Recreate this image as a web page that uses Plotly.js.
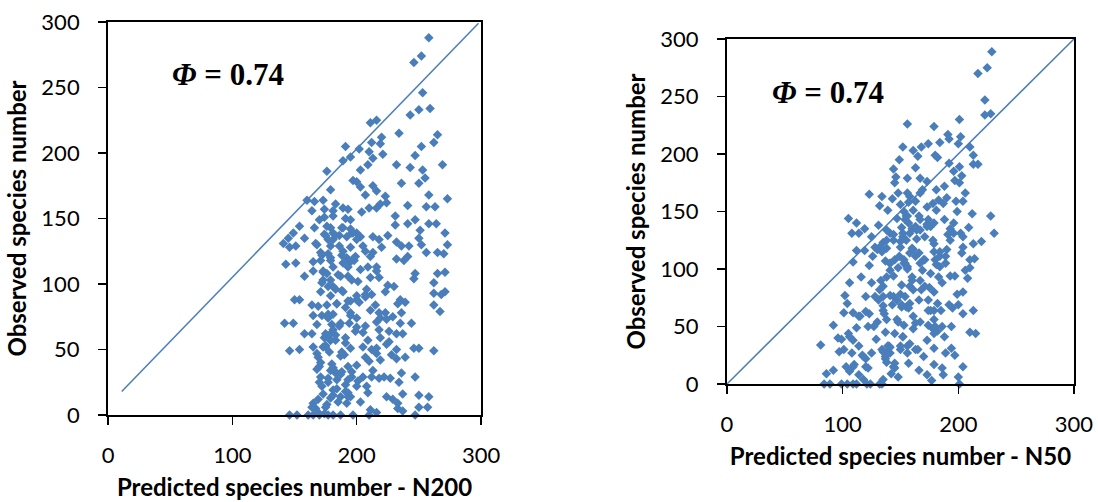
<!DOCTYPE html>
<html>
<head>
<meta charset="utf-8">
<script src="https://cdn.plot.ly/plotly-3.0.1.min.js"></script>
<style>html,body{margin:0;padding:0;background:#fff}#chart{width:1098px;height:502px}</style>
</head>
<body>
<div id="chart"></div>
<script>
// Panel A: predicted (N200) vs observed species number
const predN200 = [258,252,246,253,250,259,243,216,211,234,265,220,212,219,262,191,252,210,202,195,247,221,213,189,209,232,269,243,253,203,176,197,200,250,236,213,255,203,179,216,207,258,223,273,160,173,166,224,219,183,241,256,263,210,216,193,189,164,174,181,204,231,174,170,247,191,231,241,264,258,154,166,179,189,195,251,149,181,200,271,174,186,213,225,218,250,203,145,158,192,141,168,232,252,273,236,242,151,146,220,195,189,207,256,265,270,171,177,188,213,197,241,238,232,165,171,179,195,143,151,193,209,216,173,165,247,265,271,187,158,193,211,218,246,173,179,201,262,225,230,181,223,189,171,271,268,212,200,179,207,235,150,154,195,262,202,239,233,262,184,164,215,191,211,267,218,195,177,181,236,165,229,200,219,244,142,149,194,187,216,235,168,180,207,200,218,226,205,158,164,179,183,232,237,174,219,226,183,191,224,173,195,250,246,232,262,146,154,178,190,216,228,187,169,207,232,239,210,219,200,180,193,168,181,196,188,236,247,205,171,177,212,218,222,193,184,227,170,201,234,208,200,181,191,209,173,237,250,258,187,224,179,229,233,185,203,165,176,250,257,233,167,211,237,216,170,174,161,165,170,177,181,187,146,152,197,210,247,175,179,175,181,186,183,179,187,170,172,184,195,192,193,172,169,183,172,176,181,189,198,203,186,181,179,176,197,200,181,195,205,211,216,223,224,208,193,205,216,209,212,165,168,213,
  175,177,183,188,196,167,172,179,192,199,173,185,196,177,188,207,176,184,200,195,177,175,179,191,199,175,188,171,183,196,177,191,181,193,169,164,175];
const obsN200 = [288,274,269,246,233,234,229,225,223,215,214,212,208,207,208,205,205,201,203,197,198,199,196,194,191,191,191,189,187,187,186,179,178,177,177,175,181,174,172,171,168,168,167,165,164,164,163,162,161,161,160,159,159,158,158,157,158,156,157,156,155,152,151,149,149,150,145,146,146,146,144,143,143,143,142,141,139,139,139,139,138,137,136,137,134,135,136,135,135,136,131,130,132,130,130,129,129,129,128,128,128,125,125,124,124,123,124,123,122,124,119,121,118,119,117,118,118,117,115,116,113,113,110,110,110,108,108,109,106,106,106,105,105,104,103,103,102,101,99,98,98,94,94,94,94,92,92,91,91,90,88,88,88,87,93,86,86,85,84,85,84,84,82,80,79,78,78,77,77,78,76,75,74,74,70,70,70,70,70,71,70,69,69,68,67,65,64,63,62,62,62,61,62,62,59,59,56,57,55,54,52,51,51,51,50,49,49,50,48,46,47,46,45,44,44,43,44,41,42,38,39,37,35,36,33,33,32,29,29,29,28,29,28,29,27,27,28,25,26,25,22,22,19,18,17,16,16,15,14,14,14,13,12,9,10,10,9,8,6,6,5,5,4,3,2,1,1,0,0,0,0,0,0,0,0,0,0,0,53,57,62,65,68,32,34,31,37,22,20,14,9,17,76,83,96,101,108,113,116,118,111,129,134,129,144,139,134,152,149,129,121,113,78,73,96,87,52,51,57,50,52,47,34,
  137,134,137,143,139,131,122,120,120,121,109,107,103,98,95,92,84,85,88,76,74,60,57,59,64,52,48,40,33,29,25,23,15,14,12,6,6];
const refLineA_x = [11, 298];
const refLineA_y = [18, 299];

// Panel B: predicted (N50) vs observed species number
const predN50 = [229,225,217,223,228,223,156,179,201,191,202,192,184,200,210,174,168,152,161,180,213,182,149,165,213,217,192,201,144,163,196,203,146,156,167,197,173,145,201,188,169,181,148,156,123,206,134,143,190,198,183,178,187,163,204,132,150,157,199,139,212,228,166,153,156,105,147,188,196,112,173,131,209,176,151,119,167,231,108,114,158,191,144,204,171,125,164,135,220,213,179,204,128,138,160,112,119,184,166,126,149,180,210,214,109,189,137,141,181,153,123,210,169,156,206,193,197,144,116,160,208,133,167,106,186,151,135,175,158,179,204,199,150,102,128,141,120,166,174,104,143,151,192,200,135,157,195,174,179,185,120,109,101,123,136,204,213,161,114,130,148,167,92,127,153,112,174,186,194,161,178,182,105,210,215,137,145,152,188,96,99,109,129,173,114,81,139,150,156,194,179,163,97,135,141,197,125,108,117,120,189,170,138,157,179,110,103,120,122,145,204,186,166,92,106,86,142,173,187,114,148,200,135,118,177,84,89,99,104,109,112,121,124,132,134,201,154,157,160,163,167,174,179,152,155,150,158,153,156,163,171,179,167,176,183,184,171,161,154,158,147,182,179,180,179,138,138,137,134,140,156,158,144,135,141,145,141,138,132,130,193,196,193,190,189,203,202,173,181,161,158,167,
  138,144,150,134,141,148,138,132,144,151,135,147,141,150,137,145,118,109,101,106,122,115,131,125,155,164,152,173,161,154,170,160,168,155,176,163,152,165,184,178];
const obsN50 = [289,275,270,247,235,234,226,224,230,217,215,213,210,209,206,209,206,206,203,199,199,197,195,198,191,191,192,189,187,188,185,181,180,179,179,177,176,175,175,172,169,169,166,166,165,166,163,161,162,159,160,157,157,159,159,155,156,158,150,151,148,146,146,150,146,144,144,143,140,140,139,138,136,137,136,135,134,131,131,131,131,130,130,128,128,128,126,123,124,122,122,119,119,118,118,116,116,115,114,111,111,108,108,109,106,105,107,105,104,105,103,101,99,100,99,94,94,94,93,93,92,90,90,88,88,86,85,84,85,80,80,78,78,77,76,77,76,73,73,70,69,69,69,69,68,66,66,64,64,64,63,62,62,61,61,61,64,59,59,54,54,54,51,50,51,49,51,50,50,48,48,46,44,45,44,45,44,41,41,40,39,38,39,38,33,34,33,33,33,31,31,30,28,28,27,25,27,27,25,22,27,24,19,18,17,17,15,15,14,14,15,14,12,12,11,9,9,8,8,8,6,6,4,4,3,0,0,0,0,0,0,0,0,0,0,0,143,140,135,137,143,143,140,131,125,124,114,108,102,111,108,115,105,96,93,102,85,82,76,70,73,70,56,50,44,56,27,22,30,33,27,35,15,76,99,108,131,125,119,117,135,131,125,117,111,114,131,154,151,151,163,166,
  134,125,119,115,105,101,93,82,76,67,64,56,32,30,24,18,24,15,30,41,50,59,73,88,146,134,128,137,117,105,108,90,82,67,64,53,41,30,111,125];
const refLineB_x = [0, 300];
const refLineB_y = [0, 300];

const tickVals = [0, 100, 200, 300];
const yTickVals = [0, 50, 100, 150, 200, 250, 300];
const xTitleA = 'Predicted species number - N200';
const xTitleB = 'Predicted species number - N50';
const yTitle = 'Observed species number';
const phiText = '<b><i>Φ</i> = 0.74</b>';

const blue = '#4A7EBB';
const sans = 'Lato, "Open Sans", sans-serif';

const markerStyle = {symbol: 'diamond', size: 7.3, color: blue};
const traces = [
  {x: predN200, y: obsN200, type: 'scatter', mode: 'markers', marker: markerStyle, xaxis: 'x', yaxis: 'y', cliponaxis: false, showlegend: false},
  {x: refLineA_x, y: refLineA_y, type: 'scatter', mode: 'lines', line: {color: blue, width: 1.5}, xaxis: 'x', yaxis: 'y', showlegend: false},
  {x: predN50, y: obsN50, type: 'scatter', mode: 'markers', marker: markerStyle, xaxis: 'x2', yaxis: 'y2', cliponaxis: false, showlegend: false},
  {x: refLineB_x, y: refLineB_y, type: 'scatter', mode: 'lines', line: {color: blue, width: 1.5}, xaxis: 'x2', yaxis: 'y2', showlegend: false}
];

function xAxis(domain, title, anchor) {
  return {
    domain: domain, anchor: anchor, range: [0, 300], tickvals: tickVals,
    ticks: 'outside', ticklen: 8, tickwidth: 1.5, tickcolor: '#000',
    showline: true, linecolor: '#000', linewidth: 2, mirror: true,
    showgrid: false, zeroline: false, fixedrange: true,
    tickfont: {family: sans, size: 22, color: '#000'}, ticklabelstandoff: 12,
    title: {text: '<b>' + title + '</b>', font: {family: sans, size: 24, color: '#000'}, standoff: 12}
  };
}
function yAxis(domain, anchor) {
  return {
    domain: domain, anchor: anchor, range: [0, 300], tickvals: yTickVals,
    ticks: 'outside', ticklen: 8, tickwidth: 1.5, tickcolor: '#000',
    showline: true, linecolor: '#000', linewidth: 2, mirror: true,
    showgrid: false, zeroline: false, fixedrange: true,
    tickfont: {family: sans, size: 22, color: '#000'}, ticklabelstandoff: 14,
    title: {text: '<b>' + yTitle + '</b>', font: {family: sans, size: 24, color: '#000'}, standoff: 8}
  };
}

const layout = {
  width: 1098, height: 502,
  margin: {l: 0, r: 0, t: 0, b: 0},
  paper_bgcolor: '#fff', plot_bgcolor: '#fff',
  xaxis: xAxis([0.0984, 0.4381], xTitleA, 'y'),
  yaxis: yAxis([0.1733, 0.9562], 'x'),
  xaxis2: xAxis([0.6621, 0.9781], xTitleB, 'y2'),
  yaxis2: yAxis([0.2351, 0.9223], 'x2'),
  annotations: [
    {xref: 'paper', yref: 'paper', x: 0.1548, y: 0.8506, xanchor: 'left', yanchor: 'middle', showarrow: false,
     text: phiText, font: {family: '"Liberation Serif", "Times New Roman", serif', size: 31, color: '#000'}},
    {xref: 'paper', yref: 'paper', x: 0.7013, y: 0.8167, xanchor: 'left', yanchor: 'middle', showarrow: false,
     text: phiText, font: {family: '"Liberation Serif", "Times New Roman", serif', size: 31, color: '#000'}}
  ]
};

Plotly.newPlot('chart', traces, layout, {displayModeBar: false, staticPlot: true});
</script>
</body>
</html>
